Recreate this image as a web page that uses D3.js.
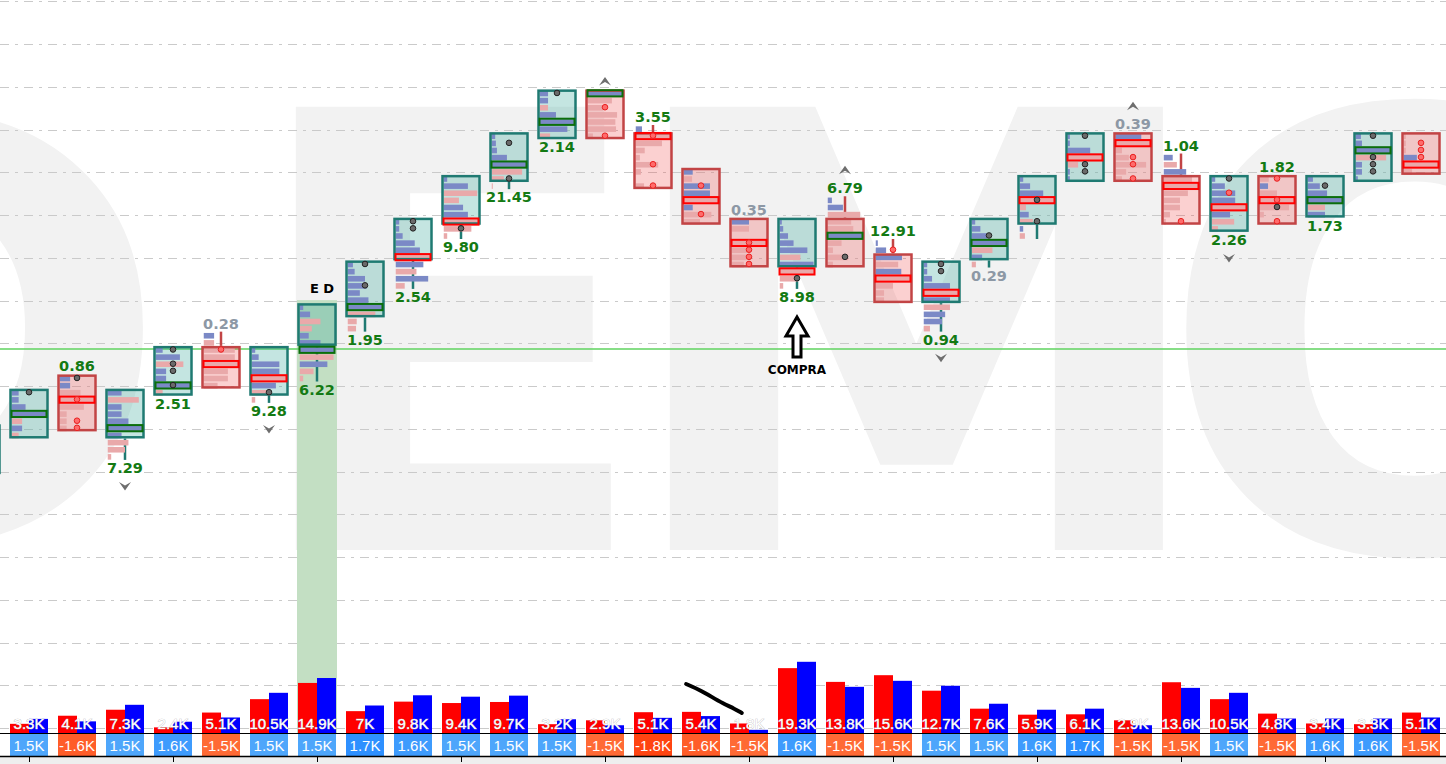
<!DOCTYPE html>
<html>
<head>
<meta charset="utf-8">
<script src="https://cdn.jsdelivr.net/npm/d3@7"></script>
<style>
  html, body { margin: 0; padding: 0; background: #fff; overflow: hidden; }
  svg { display: block; }
</style>
</head>
<body>
<svg id="chart" width="1446" height="764"></svg>
<script>
// ---- data (price levels are in ticks, volumes in K) ----
// first entry is the half-hidden candle at the left edge
const opens  = [37, 42, 50, 42, 48, 54, 48, 55, 59, 67, 72, 78, 84, 90, 84, 79, 72, 66, 72, 67, 61, 67, 72, 78, 84, 78, 71, 78, 73, 78, 84];
const closes = [43, 48, 43, 48, 54, 49, 54, 60, 66, 72, 78, 84, 90, 84, 77, 72, 66, 72, 66, 61, 66, 72, 78, 84, 78, 72, 78, 72, 78, 84, 79];
const highs  = [43, 48, 50, 48, 54, 56, 54, 60, 66, 72, 78, 84, 90, 90, 85, 79, 72, 72, 75, 69, 66, 72, 78, 84, 84, 81, 78, 78, 78, 84, 84];

// volume profile per candle, top row first (+ = buy / blue, - = sell / pink)
const profiles = [
  [3, 5, 8, -4, 10, -3, 2],
  [2, 2, 4, 10, -3, 3, -2],
  [3, 3, -6, -10, -7, -2, -2, -2],
  [4, -9, 4, 4, 6, 10, 4, -6, -5, -1],
  [2, 7, -8, 3, 3, 10, -2],
  [3, -3, -9, -9, -10, -7, -7, -4],
  [1, 2, 8, 8, -10, 7, -5, -1],
  [1, 3, -6, -3.5, 2.6, 6, 10, -9.8, 8, -4, -1],
  [1.5, 2, 5, 5.5, 3.5, 6, 10, -8, -2.6, -2.4],
  [1, 1, 2, 5.5, 7, -10, 8, -6, 9.4, -2.6],
  [1, 7, -9.7, -4.4, 5.6, 7, -10, -8, -1],
  [1, 1.2, 1.5, 4.4, 10, -8.8, -3.5, -0.3],
  [2.4, 2.4, -2.4, 4.7, 10, 8, -3],
  [10, -7, -4.4, -8.5, -8, -8.2, -1.5],
  [1.8, -10, -7.6, -2.6, -1.2, -6.5, -1.5, 0, -2.4],
  [2.6, -2.4, 7.6, 7.6, -10, 2.6, -8, -4.7],
  [5, -5, 0, -10, -4.4, -4.4, -3.5],
  [0.6, 1, 2.4, 4, 8, -6, 9.8, -10, -5.3, -1],
  [1.2, 4.4, -9.4, -6.8, -7.4, 10, -4, -1.5, -5.9, -1.5],
  [0.6, 3, 7.6, -6.5, 7.4, -10, -5, -2.4, -2.4],
  [1, 1, 2.4, 7.6, -10, 7.6, -7.6, 6.2, 5.3, -1.8],
  [1, 2.5, 4.5, 10, -6, 3, -1.2],
  [1, 3, 6.8, -10, -1.8, 2.6, -3.8, 1, -1.5],
  [0.6, 0.6, 6.5, -10, -3, 0.6, 0.6],
  [7.4, -10, -1.8, -3.8, -8.8, -3, -1.8],
  [2.6, -3.8, 6.5, -8.2, -10, -7, -4.7, -4.7, -1.8, -0.6],
  [1, 3.8, 6.8, 6.8, -10, 5.3, -6.5, -1.8],
  [-2.6, 2.4, -5, -10, -8.5, -1.2, 0],
  [1.5, 3.5, 5.6, 10, -5, 5],
  [1.5, 1.8, 10, -8.8, 1.8, 1.8, 0.6],
  [-0.6, -0.6, -0.6, 3.8, -10, -2.4]
];

// imbalance dots: [row in profile, k = black / r = red]
const dots = [
  [], [[0, "k"]], [[0, "k"], [3, "r"], [6, "r"], [7, "r"]], [],
  [[0, "k"], [2, "k"], [3, "k"], [5, "k"]], [[2, "r"]], [[6, "k"]], [],
  [[0, "k"], [3, "k"]], [[0, "k"], [1, "k"]], [[7, "k"]], [[1, "k"], [6, "k"]],
  [[0, "k"]], [[2, "r"], [6, "r"]], [[1, "r"], [5, "r"], [8, "r"]], [[2, "r"], [6, "r"]],
  [[3, "r"], [4, "r"], [5, "r"], [6, "r"]], [[8, "k"]], [[8, "k"]], [[1, "r"]],
  [[0, "k"], [1, "k"]], [[2, "k"]], [[3, "k"], [6, "k"]], [[0, "k"], [4, "k"], [5, "k"]],
  [[3, "r"], [4, "r"], [6, "r"]], [[9, "r"]], [[0, "k"], [2, "r"]],
  [[0, "r"], [3, "r"], [4, "k"], [6, "r"]], [[1, "k"]], [[0, "k"], [3, "k"], [4, "k"], [5, "k"]],
  [[1, "r"], [2, "r"], [3, "r"]]
];

const ratios = [null, null, 0.86, 7.29, 2.51, 0.28, 9.28, 6.22, 1.95, 2.54, 9.80, 21.45, 2.14, null,
  3.55, null, 0.35, 8.98, 6.79, 12.91, 0.94, 0.29, null, null, 0.39, 1.04, 2.26, 1.82, 1.73, null, null];
const arrows = [0, 0, 0, 1, 0, 0, 1, 0, 0, 0, 0, 0, 0, 1, 0, 0, 0, 0, 1, 0, 1, 0, 0, 0, 1, 0, 1, 0, 0, 0, 0];

const sellVol = [2.5, 1.3, 2.45, 3.3, 0.8, 2.9, 4.8, 7.1, 3.1, 4.45, 4.25, 4.4, 1.25, 1.8, 2.95, 3.0,
  1.35, 9.2, 7.25, 8.2, 6.0, 3.45, 2.6, 2.65, 1.8, 7.2, 4.8, 2.75, 1.35, 1.25, 2.9];
const buyVol = [2.6, 2.0, 1.65, 4.0, 1.6, 2.2, 5.7, 7.8, 3.9, 5.35, 5.15, 5.3, 1.95, 1.1, 2.15, 2.4,
  0.45, 10.1, 6.55, 7.4, 6.7, 4.15, 3.3, 3.45, 1.1, 6.4, 5.7, 2.05, 2.05, 2.05, 2.2];
const deltas = [1.5, 1.5, -1.6, 1.5, 1.6, -1.5, 1.5, 1.5, 1.7, 1.6, 1.5, 1.5, 1.5, -1.5, -1.8, -1.6,
  -1.5, 1.6, -1.5, -1.5, 1.5, 1.5, 1.6, 1.7, -1.5, -1.5, 1.5, -1.5, 1.6, 1.6, -1.5];

const refLevel = 53.2;      // green horizontal line
const markedCandle = 7;     // "E D" signal bar
const buyCandle = 17;       // "COMPRA" arrow
const scribble = [[13.69, 6.95], [13.98, 6.1], [14.23, 5.1], [14.44, 4.26], [14.71, 3.4], [14.85, 2.84]];

// ---- setup ----
const width = 1446, height = 764;
const svg = d3.select("#chart");

const xScale = d3.scaleLinear().domain([-1, 29]).range([-19, 1421]);
const yScale = d3.scaleLinear().domain([102, 0]).range([1.3, 728.05]);
const volScale = d3.scaleLinear().domain([0, 10]).range([733, 662.5]);
const barScale = d3.scaleLinear().domain([0, 10]).range([0, 34.5]);

const rowH = yScale(0) - yScale(1);
const rowTop = (lvl) => yScale(lvl) + 2.6;

const BLUE = "#7b89c6", PINK = "#e9a9aa";
const UP_STROKE = "#1f7a72", DN_STROKE = "#c24445";
const LABEL_FONT = "Liberation Sans, Arial, sans-serif";

// watermark
const wm = svg.append("g").attr("fill", "#f2f2f2")
  .attr("font-family", "DejaVu Sans, sans-serif")
  .attr("font-weight", "bold").attr("font-size", 608);
[["D", -330], ["E", 240], ["M", 614], ["O", 1156]].forEach(([ch, px]) => {
  wm.append("text").attr("x", px).attr("y", 550).text(ch);
});

// dashed grid
svg.append("g")
  .selectAll("line")
  .data(d3.range(0, 103, 6))
  .join("line")
  .attr("x1", 0).attr("x2", width)
  .attr("y1", (d) => Math.round(yScale(d)) + 0.5)
  .attr("y2", (d) => Math.round(yScale(d)) + 0.5)
  .attr("stroke", "#cacaca")
  .attr("stroke-dasharray", "9,6,3,6");

// highlight band for the signal bar
const bx = xScale(markedCandle - 1);
svg.append("rect")
  .attr("x", bx - 20).attr("width", 40)
  .attr("y", rowTop(highs[markedCandle]) - 3)
  .attr("height", volScale(0) - rowTop(highs[markedCandle]) + 3)
  .attr("fill", "#c3dfc3");

// reference line
svg.append("line")
  .attr("x1", 0).attr("x2", width)
  .attr("y1", yScale(refLevel)).attr("y2", yScale(refLevel))
  .attr("stroke", "#5fd35f").attr("stroke-width", 1.5);

// ---- candles ----
const candleG = svg.append("g");
opens.forEach((o, i) => {
  const c = closes[i];
  const cx = xScale(i - 1);
  const up = c >= o;
  const prof = profiles[i];
  const hi = highs[i];
  const lo = hi - prof.length + 1;
  const bodyHi = Math.max(o, c), bodyLo = Math.min(o, c);
  const yTop = rowTop(bodyHi), yBot = rowTop(bodyLo) + rowH;
  const stroke = up ? UP_STROKE : DN_STROKE;
  const g = candleG.append("g");

  // wicks
  if (hi > bodyHi) {
    g.append("line").attr("x1", cx).attr("x2", cx)
      .attr("y1", rowTop(hi)).attr("y2", yTop)
      .attr("stroke", stroke).attr("stroke-width", 2.5);
  }
  if (lo < bodyLo) {
    g.append("line").attr("x1", cx).attr("x2", cx)
      .attr("y1", yBot).attr("y2", rowTop(lo) + rowH)
      .attr("stroke", stroke).attr("stroke-width", 2.5);
  }

  // body fill
  g.append("rect")
    .attr("x", cx - 18.5).attr("y", yTop + 1.25)
    .attr("width", 37).attr("height", yBot - yTop - 2.5)
    .attr("fill", up ? "#3aa89a" : "#f05050")
    .attr("fill-opacity", up ? 0.3 : 0.27);

  // profile bars
  g.selectAll("rect.bar")
    .data(prof)
    .join("rect")
    .attr("class", "bar")
    .attr("x", cx - 17.25)
    .attr("y", (v, k) => rowTop(hi - k) + 1.3)
    .attr("width", (v) => barScale(Math.abs(v)))
    .attr("height", 5.6)
    .attr("fill", (v) => (v > 0 ? BLUE : PINK));

  // body outline
  g.append("rect")
    .attr("x", cx - 18.5).attr("y", yTop + 1.25)
    .attr("width", 37).attr("height", yBot - yTop - 2.5)
    .attr("fill", "none").attr("stroke", stroke).attr("stroke-width", 2.5);

  // point of control
  const poc = d3.maxIndex(prof, (v) => Math.abs(v));
  g.append("rect")
    .attr("x", cx - 17.5).attr("y", rowTop(hi - poc) + 0.8)
    .attr("width", 35).attr("height", 6.2)
    .attr("fill", "none")
    .attr("stroke", prof[poc] > 0 ? "#0b6e0b" : "#ff0000")
    .attr("stroke-width", 2);

  // imbalance dots
  g.selectAll("circle")
    .data(dots[i])
    .join("circle")
    .attr("cx", cx)
    .attr("cy", (d) => rowTop(hi - d[0]) + rowH / 2)
    .attr("r", 2.8)
    .attr("fill", (d) => (d[1] === "k" ? "#6a6a6a" : "#ff6b6b"))
    .attr("stroke", (d) => (d[1] === "k" ? "#222" : "#e82020"))
    .attr("stroke-width", 1);

  // ratio label
  const ly = up ? rowTop(lo) + rowH + 8 : rowTop(hi) - 8;
  if (ratios[i] !== null) {
    g.append("text")
      .attr("x", cx).attr("y", ly)
      .attr("text-anchor", "middle").attr("dominant-baseline", "central")
      .attr("font-family", "DejaVu Sans, Verdana, sans-serif")
      .attr("font-weight", "bold").attr("font-size", 14.5)
      .attr("fill", ratios[i] < 0.5 ? "#8d98a5" : "#137a13")
      .text(d3.format(".2f")(ratios[i]));
  }

  // exhaustion arrows
  if (arrows[i]) {
    const ay = ratios[i] !== null ? ly + (up ? 18 : -18) : (up ? yBot + 8 : yTop - 8);
    const s = up ? 1 : -1;
    g.append("path")
      .attr("transform", `translate(${cx},${ay}) scale(1,${s})`)
      .attr("d", "M-6,-4 L0,4.5 L6,-4 L0,-0.5 Z")
      .attr("fill", "#6e6e6e");
  }
});

// ---- volume panel ----
const volG = svg.append("g");
const fmtK = (v) => d3.format(".1f")(v).replace(/\.0$/, "").replace("\u2212", "-") + "K";
const posColor = d3.scaleLinear().domain([1.5, 1.7]).range(["#4ea6fb", "#2e90ff"]).clamp(true);
const negColor = d3.scaleLinear().domain([1.5, 1.8]).range(["#ff6a35", "#ff4411"]).clamp(true);

sellVol.forEach((s, i) => {
  const cx = xScale(i - 1);
  const b = buyVol[i];
  volG.append("rect").attr("x", cx - 19).attr("width", 19)
    .attr("y", volScale(s)).attr("height", volScale(0) - volScale(s)).attr("fill", "#ff0000");
  volG.append("rect").attr("x", cx).attr("width", 19)
    .attr("y", volScale(b)).attr("height", volScale(0) - volScale(b)).attr("fill", "#0000ff");
  volG.append("text")
    .attr("x", cx).attr("y", 723)
    .attr("text-anchor", "middle").attr("dominant-baseline", "central")
    .attr("font-family", LABEL_FONT).attr("font-size", 15)
    .attr("fill", "#fff").attr("stroke", "#bcbcbc").attr("stroke-width", 0.7)
    .attr("paint-order", "stroke")
    .text(fmtK(s + b));

  const dlt = deltas[i];
  volG.append("rect").attr("x", cx - 19).attr("width", 38)
    .attr("y", 734).attr("height", 22)
    .attr("fill", dlt > 0 ? posColor(dlt) : negColor(-dlt));
  volG.append("text")
    .attr("x", cx).attr("y", 745.5)
    .attr("text-anchor", "middle").attr("dominant-baseline", "central")
    .attr("font-family", LABEL_FONT).attr("font-size", 15)
    .attr("fill", "#fff")
    .text(fmtK(dlt));
});

// axis lines and ticks
volG.append("line").attr("x1", 0).attr("x2", width).attr("y1", 733.5).attr("y2", 733.5)
  .attr("stroke", "#000");
volG.append("rect").attr("x", 0).attr("y", 757).attr("width", width).attr("height", 7)
  .attr("fill", "#eeeeee");
volG.append("line").attr("x1", 0).attr("x2", width).attr("y1", 756.5).attr("y2", 756.5)
  .attr("stroke", "#000").attr("stroke-width", 1.5);
volG.selectAll("line.tick")
  .data(d3.range(0, 30, 3))
  .join("line")
  .attr("class", "tick")
  .attr("x1", (d) => xScale(d) + 0.5).attr("x2", (d) => xScale(d) + 0.5)
  .attr("y1", 757).attr("y2", 762)
  .attr("stroke", "#000");

// ---- annotations ----
svg.append("text")
  .attr("x", xScale(markedCandle - 1) + 5).attr("y", 288)
  .attr("text-anchor", "middle").attr("dominant-baseline", "central")
  .attr("font-family", "DejaVu Sans, Verdana, sans-serif")
  .attr("font-weight", "bold").attr("font-size", 13)
  .attr("fill", "#000")
  .text("E D");

const ax = xScale(buyCandle - 1);
svg.append("path")
  .attr("transform", `translate(${ax},337)`)
  .attr("d", "M0,-20 L11,-1 L4,-1 L4,20 L-4,20 L-4,-1 L-11,-1 Z")
  .attr("fill", "#fff").attr("stroke", "#000").attr("stroke-width", 3)
  .attr("stroke-linejoin", "miter");
svg.append("text")
  .attr("x", ax).attr("y", 370)
  .attr("text-anchor", "middle").attr("dominant-baseline", "central")
  .attr("font-family", "DejaVu Sans, Verdana, sans-serif")
  .attr("font-weight", "bold").attr("font-size", 12)
  .attr("fill", "#000")
  .text("COMPRA");

svg.append("path")
  .datum(scribble)
  .attr("d", d3.line().x((d) => xScale(d[0])).y((d) => volScale(d[1])).curve(d3.curveBasis))
  .attr("fill", "none").attr("stroke", "#000").attr("stroke-width", 4)
  .attr("stroke-linecap", "round");
</script>
</body>
</html>
